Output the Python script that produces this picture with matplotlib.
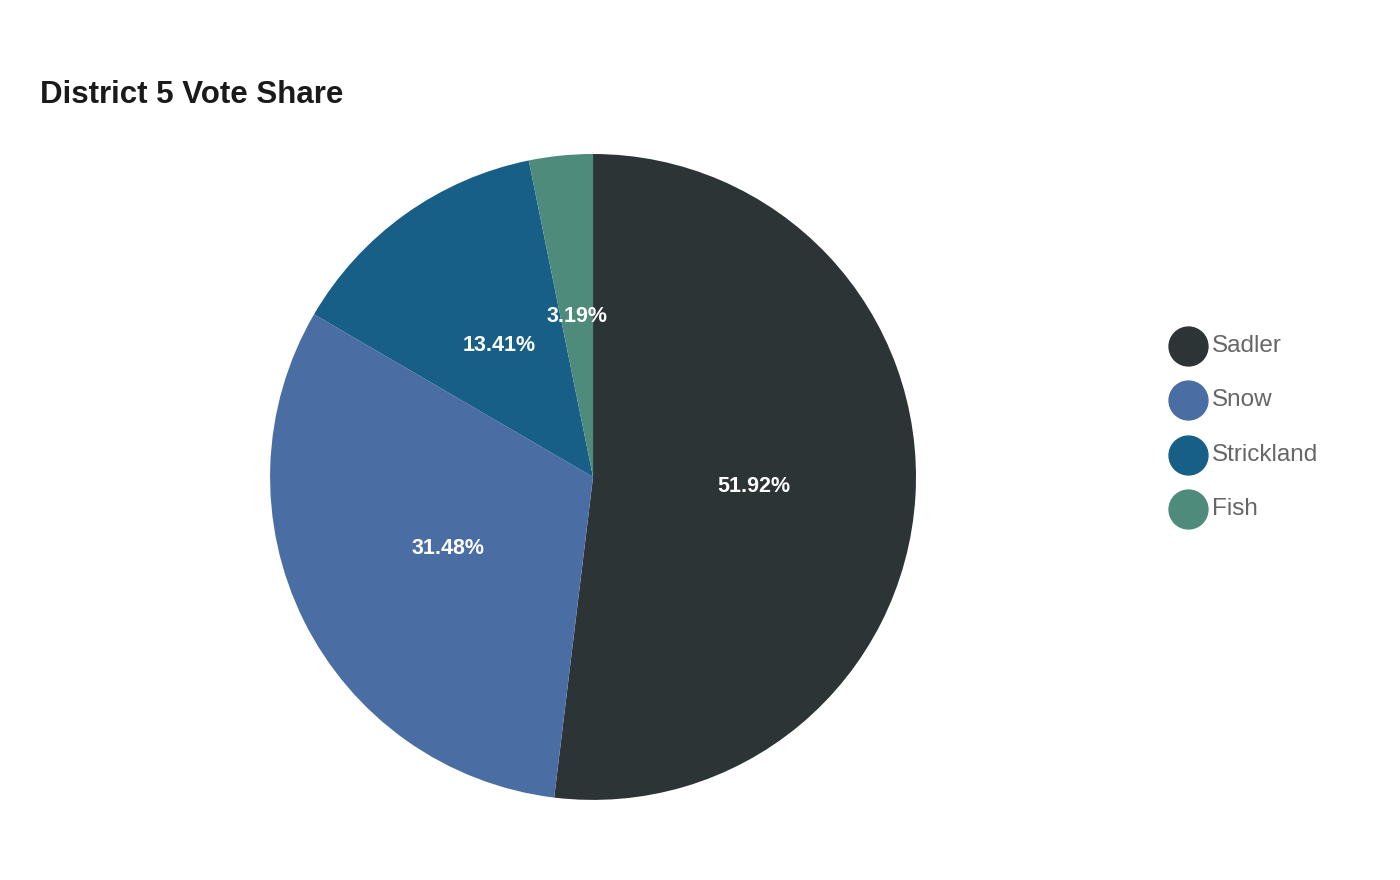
import matplotlib.pyplot as plt

plt.rcParams['font.family'] = ['Liberation Sans', 'DejaVu Sans']

candidates = ["Sadler", "Snow", "Strickland", "Fish"]
shares = [51.92, 31.48, 13.41, 3.19]
colors = ["#2d3436", "#4a6ea3", "#185f87", "#4e8b7a"]

fig = plt.figure(figsize=(14, 8.8), dpi=100)
ax = fig.add_axes([0.4236 - 0.2307, 0.458 - 0.367, 0.4614, 0.734])
wedges, texts, autotexts = ax.pie(
    shares, colors=colors, startangle=90, counterclock=False,
    autopct="%.2f%%", pctdistance=0.5,
    textprops=dict(color="white", fontsize=15.5, fontweight="bold"))
ax.set_xlim(-1, 1)
ax.set_ylim(-1, 1)
ax.set_aspect("equal")

fig.text(40 / 1400, 1 - 95 / 880, "District 5 Vote Share", fontsize=22.5,
         fontweight="bold", color="#1a1a1a", va="center")

# legend drawn in pixel coords on an overlay axes
lax = fig.add_axes([0, 0, 1, 1], zorder=-1)
lax.set_xlim(0, 1400)
lax.set_ylim(880, 0)
lax.axis("off")
for i, (name, c) in enumerate(zip(candidates, colors)):
    y = 346 + 54.3 * i
    lax.plot(1188, y, "o", markersize=28, color=c)
    lax.text(1212, y, name, fontsize=17.5, color="#666666", va="center")

fig.savefig("out.png")
